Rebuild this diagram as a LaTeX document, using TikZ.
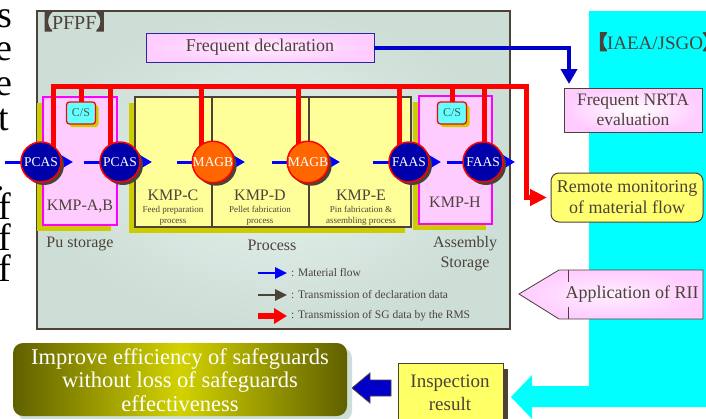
\documentclass[tikz,border=0pt]{standalone}
\usepackage{fontspec}
\setmainfont{Liberation Serif}
\newfontfamily\cjkf{Noto Sans CJK JP}[FakeBold=8]
\usetikzlibrary{arrows.meta,shadows,calc}
\newcommand{\myfs}[2]{\fontsize{#1}{#2}\selectfont}
\definecolor{txt}{RGB}{77,66,58}
\definecolor{bgA}{RGB}{204,222,214}
\definecolor{bgB}{RGB}{232,242,238}
\definecolor{pinkF}{RGB}{255,204,255}
\definecolor{magB}{RGB}{255,0,255}
\definecolor{yelF}{RGB}{255,255,153}
\definecolor{oliveS}{RGB}{204,204,0}
\definecolor{dkB}{RGB}{77,66,56}
\definecolor{navy}{RGB}{0,0,170}
\definecolor{orng}{RGB}{255,102,0}
\definecolor{cyanF}{RGB}{0,255,255}
\definecolor{csF}{RGB}{102,255,255}
\definecolor{remY}{RGB}{255,255,112}
\definecolor{insY}{RGB}{255,255,102}
\definecolor{oliveD}{RGB}{96,96,0}
\definecolor{oliveL}{RGB}{210,210,0}
\definecolor{declB}{RGB}{0,0,200}
\definecolor{shGr}{RGB}{205,222,214}
\definecolor{frB}{RGB}{40,40,160}
\definecolor{csT}{RGB}{60,95,95}
\begin{document}
\begin{tikzpicture}[x=1pt,y=-1pt,line join=miter,
  every node/.style={inner sep=0pt,outer sep=0pt},
  lbl/.style={text=txt,align=center},
  pinkbox/.style={draw=magB,line width=1.2pt,fill=pinkF},
  olsh/.style={drop shadow={shadow xshift=-6pt,shadow yshift=-6pt,fill=oliveS,opacity=1}},
  csbox/.style={draw=red,line width=1.3pt,fill=csF,rounded corners=3pt,minimum width=29pt,minimum height=22pt,text=csT,font=\myfs{12}{14},drop shadow={shadow xshift=3pt,shadow yshift=-3pt,fill=oliveS,opacity=1}},
  dev/.style={circle,draw=red,line width=1.5pt,minimum size=40pt,text=white,font=\myfs{13.5}{14},drop shadow={shadow xshift=3pt,shadow yshift=-3pt,fill=dkB,opacity=1}},
  bluedev/.style={dev,fill=navy},
  orgdev/.style={dev,fill=orng},
  rw/.style={draw=red,line width=5pt},
  mf/.style={draw=blue,line width=3pt,-{Triangle[length=12pt,width=13pt]}},
  frag/.style={anchor=base east,font=\myfs{38}{38},text=black}
]
\useasboundingbox (0,0) rectangle (706,418);
\fill[white] (0,0) rectangle (706,418);

% cut-off text at the left edge
\node[frag] (lf1) at (12,27) {s};
\node[frag] (lf2) at (12,60) {e};
\node[frag] (lf3) at (12,95) {e};
\node[frag] (lf4) at (9,130) {t};
\node[frag] (lf5) at (5,190) {.};
\node[frag] (lf6) at (11,219) {f};
\node[frag] (lf7) at (11,250) {f};
\node[frag] (lf8) at (11,281) {f};

% IAEA region (cyan) with arrow to inspection result
\fill[cyanF] (589,11) -- (720,11) -- (720,407) -- (532,407) -- (532,419) -- (511,397)
  -- (532,375) -- (532,386) -- (589,386) -- cycle;
\node[anchor=base west,text=txt,font=\myfs{19}{20}] (iaea) at (588,49) {{\cjkf 【}IAEA/JSGO{\cjkf 】}};

% PFPF frame
\node[draw=dkB,line width=2pt,inner color=bgB,outer color=bgA,minimum width=473pt,minimum height=318pt] (pfpf) at (273.5,170) {};
\node[anchor=base west,text=txt,font=\myfs{20}{20}] (pfpft) at (32,29) {{\cjkf 【}PFPF{\cjkf 】}};

% frequent declaration
\node[draw=frB,line width=1pt,inner color=pinkF!35!white,outer color=pinkF,minimum width=228pt,minimum height=29pt,text=txt,font=\myfs{18}{20}] (fd) at (260,47.5) {Frequent declaration};

% NRTA box
\node[draw=dkB,line width=0.8pt,inner color=white,outer color=pinkF,minimum width=138pt,minimum height=44pt,lbl,font=\myfs{17.5}{20}] (nrta) at (633,110) {Frequent NRTA\\evaluation};
\coordinate (nrtain) at (569,88);
\draw[declB,line width=4pt,-{Triangle[length=15pt,width=16pt]},shorten >=4pt] (fd.east) -| (nrtain);

% remote monitoring box
\node[draw=dkB,line width=1pt,fill=remY,rounded corners=8pt,minimum width=152pt,minimum height=49pt,lbl,font=\myfs{18}{21}] (remote) at (627,197.5) {Remote monitoring\\of material flow};

% area boxes
\node[pinkbox,olsh,minimum width=74pt,minimum height=128pt] (kab) at (80,161) {};
\node[draw=dkB,line width=2pt,fill=yelF,olsh,minimum width=276pt,minimum height=130pt] (proc) at (273,162) {};
\draw[dkB,line width=2pt] ($(proc.north west)+(77,0)$) -- ($(proc.south west)+(77,0)$);
\draw[dkB,line width=2pt] ($(proc.north west)+(174,0)$) -- ($(proc.south west)+(174,0)$);
\node[pinkbox,olsh,minimum width=73pt,minimum height=128pt] (kh) at (455.5,160) {};

\node[csbox] (cs1) at (81,113) {C/S};
\node[csbox] (cs2) at (452,113) {C/S};

% labels in the areas
\node[lbl,font=\myfs{16}{18}] (tab) at (80,206) {KMP-A,B};
\node[lbl,font=\myfs{16}{18}] (tpu) at (80,244) {Pu storage};
\node[lbl,font=\myfs{16}{18}] (tc) at (173,195) {KMP-C};
\node[lbl,font=\myfs{9}{11}] (tcs) at (173,215.5) {Feed preparation\\process};
\node[lbl,font=\myfs{16}{18}] (td) at (260,195) {KMP-D};
\node[lbl,font=\myfs{9}{11}] (tds) at (260,215.5) {Pellet fabrication\\process};
\node[lbl,font=\myfs{16}{18}] (te) at (361,195) {KMP-E};
\node[lbl,font=\myfs{9}{11}] (tes) at (361,215.5) {Pin fabrication \&\\assembling process};
\node[lbl,font=\myfs{16}{18}] (tpr) at (272,245) {Process};
\node[lbl,font=\myfs{16}{18}] (th) at (455,202) {KMP-H};
\node[lbl,font=\myfs{16}{20}] (tas) at (465,254) {Assembly\\Storage};

% wire points
\coordinate (wL) at (53,86);
\coordinate (wR) at (526,86);
\coordinate (k2) at (110,86);
\coordinate (k3) at (201,86);
\coordinate (k4) at (298,86);
\coordinate (k5) at (399,86);
\coordinate (k6) at (484,86);
\coordinate (pc1) at (41,162);
\coordinate (pc2) at (120,162);
\coordinate (mg1) at (213,162);
\coordinate (mg2) at (308,162);
\coordinate (fa1) at (409,162);
\coordinate (fa2) at (483,162);

% red RMS wires
\draw[rw] (wL |- pc1) -- (wL) -- (wR) -- ($(wR)+(0,4)$);
\draw[rw,-{Triangle[length=17pt,width=16pt]},shorten >=4pt] (wR) -- (wR |- remote.west) -- (remote.west);
\draw[rw] (cs1.north |- wL) -- (cs1.north);
\draw[rw] (cs2.north |- wL) -- (cs2.north);
\draw[rw] (k2) -- (k2 |- pc2);
\draw[rw] (k3) -- (k3 |- mg1);
\draw[rw] (k4) -- (k4 |- mg2);
\draw[rw] (k5) -- (k5 |- fa1);
\draw[rw] (k6) -- (k6 |- fa2);

% material flow
\draw[mf] ($(pc1)+(-36,0)$) -- ($(pc1)+(32,0)$);
\draw[mf] ($(pc2)+(-36,0)$) -- ($(pc2)+(32,0)$);
\draw[mf] ($(mg1)+(-36,0)$) -- ($(mg1)+(32,0)$);
\draw[mf] ($(mg2)+(-36,0)$) -- ($(mg2)+(32,0)$);
\draw[mf] ($(fa1)+(-36,0)$) -- ($(fa1)+(32,0)$);
\draw[mf] ($(fa2)+(-36,0)$) -- ($(fa2)+(32,0)$);

% measurement devices
\node[bluedev] (pcas1) at (pc1) {PCAS};
\node[bluedev] (pcas2) at (pc2) {PCAS};
\node[orgdev] (magb1) at (mg1) {MAGB};
\node[orgdev] (magb2) at (mg2) {MAGB};
\node[bluedev] (faas1) at (fa1) {FAAS};
\node[bluedev] (faas2) at (fa2) {FAAS};

% legend
\coordinate (lg1a) at (258,273); \coordinate (lg1b) at (287,273);
\coordinate (lg2a) at (258,295); \coordinate (lg2b) at (287,295);
\coordinate (lg3a) at (258,316); \coordinate (lg3b) at (287,316);
\draw[blue,line width=2.5pt,-{Triangle[length=12pt,width=11pt]}] (lg1a) -- (lg1b);
\draw[dkB,line width=2.5pt,-{Triangle[length=12pt,width=11pt]}] (lg2a) -- (lg2b);
\draw[red,line width=6pt,-{Triangle[length=13pt,width=15pt]}] (lg3a) -- (lg3b);
\node[anchor=west,text=txt,font=\myfs{11.5}{13}] (lt1) at (291,273) {: Material flow};
\node[anchor=west,text=txt,font=\myfs{11.5}{13}] (lt2) at (291,295) {: Transmission of declaration data};
\node[anchor=west,text=txt,font=\myfs{11.5}{13}] (lt3) at (291,316) {: Transmission of SG data by the RMS};

% application of RII
\shade[inner color=pinkF!30!white,outer color=pinkF,draw=dkB,line width=0.8pt]
  (519,294) -- (559,270) -- (703,270) -- (703,319) -- (559,319) -- cycle;
\draw[dkB,line width=0.8pt] (568,270) -- (568,282) (568,307) -- (568,319);
\node[lbl,font=\myfs{18}{20}] (rii) at (632,294) {Application of RII};

% inspection result
\node[draw=dkB,line width=0.8pt,fill=insY,minimum width=105pt,minimum height=62pt,
  drop shadow={shadow xshift=5pt,shadow yshift=-6pt,fill=dkB,opacity=1}] (insp) at (450.5,394) {};
\node[lbl,font=\myfs{19}{23}] (inspt) at (450,392.5) {Inspection\\result};

% blue block arrow
\fill[declB,draw=dkB,line width=0.8pt] (352,388) -- (370,373) -- (370,380) -- (391,380)
  -- (391,396) -- (370,396) -- (370,403) -- cycle;

% improve box
\node[rounded corners=10pt,left color=oliveD,right color=oliveD,middle color=oliveL,
  minimum width=334pt,minimum height=73pt,
  drop shadow={shadow xshift=5pt,shadow yshift=-5pt,fill=shGr,opacity=1}] (impr) at (180,379.5) {};
\node[align=center,text=white,font=\myfs{22.5}{23.5}] (imprt) at (180,380) {Improve efficiency of safeguards\\without loss of safeguards\\effectiveness};
\end{tikzpicture}
\end{document}
